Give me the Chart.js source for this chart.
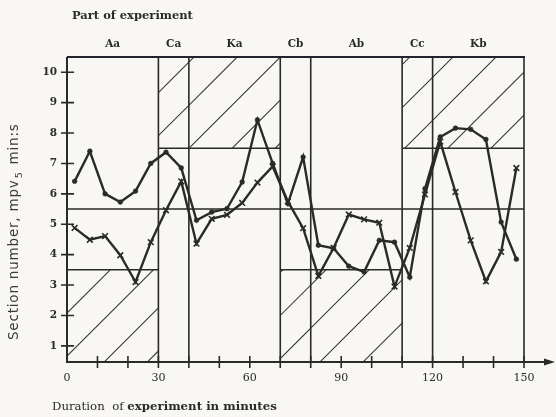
<!DOCTYPE html>
<html>
<head>
<meta charset="utf-8">
<script src="https://cdn.jsdelivr.net/npm/chart.js@4.4.1/dist/chart.umd.min.js"></script>
<style>
  html, body { margin: 0; padding: 0; background: #f8f7f3; }
  #wrap { width: 556px; height: 417px; }
</style>
</head>
<body>
<div id="wrap"><canvas id="c" width="556" height="417"></canvas></div>
<script>
// Measurement times (midpoint of each 5-minute interval)
const minutes = [2.5, 7.5, 12.5, 17.5, 22.5, 27.5, 32.5, 37.5, 42.5, 47.5,
                 52.5, 57.5, 62.5, 67.5, 72.5, 77.5, 82.5, 87.5, 92.5, 97.5,
                 102.5, 107.5, 112.5, 117.5, 122.5, 127.5, 132.5, 137.5, 142.5, 147.5];

// Series drawn with filled dots
const dotSeries = [6.41, 7.40, 6.00, 5.73, 6.09, 7.00, 7.37, 6.85, 5.13, 5.40,
                   5.51, 6.39, 8.43, 7.00, 5.68, 7.21, 4.31, 4.21, 3.62, 3.43,
                   4.47, 4.41, 3.26, 6.17, 7.87, 8.16, 8.12, 7.79, 5.07, 3.85];

// Series drawn with crosses
const crossSeries = [4.88, 4.49, 4.61, 3.98, 3.10, 4.41, 5.46, 6.41, 4.36, 5.18,
                     5.31, 5.70, 6.37, 6.90, 5.75, 4.87, 3.30, 4.22, 5.32, 5.16,
                     5.05, 2.95, 4.22, 5.98, 7.72, 6.06, 4.47, 3.12, 4.09, 6.85];

// Parts of the experiment
const sectionNames  = ['Aa', 'Ca', 'Ka', 'Cb', 'Ab', 'Cc', 'Kb'];
const sectionBounds = [0, 30, 40, 70, 80, 110, 120, 150];
const sectionZones  = ['low', 'high', 'high', 'low', 'low', 'high', 'high'];

// Reference levels
const lowLevel = 3.5;
const midLevel = 5.5;
const highLevel = 7.5;

// Axis ticks
const xTickValues = [0, 10, 20, 30, 40, 50, 60, 70, 80, 90, 100, 110, 120, 130, 140, 150];
const xLabelValues = [0, 30, 60, 90, 120, 150];
const yTickValues = [1, 2, 3, 4, 5, 6, 7, 8, 9, 10];

const INK = '#2a2a2a';
const SERIF = '"DejaVu Serif", "Liberation Serif", serif';
const SANS = '"DejaVu Sans", "Liberation Sans", sans-serif';

const framePlugin = {
  id: 'frame',
  beforeDatasetsDraw(chart) {
    const { ctx, chartArea: a, scales: { x, y } } = chart;
    const yMin = y.min, yMax = y.max;
    ctx.save();

    // hatched zones
    ctx.strokeStyle = '#3a3a3a';
    ctx.lineWidth = 1.1;
    const slope = 0.1, origin = 2.08, step = 1.416;
    sectionZones.forEach((zone, i) => {
      const t0 = sectionBounds[i], t1 = sectionBounds[i + 1];
      const v0 = zone === 'low' ? yMin : highLevel;
      const v1 = zone === 'low' ? lowLevel : yMax;
      const px0 = x.getPixelForValue(t0), px1 = x.getPixelForValue(t1);
      const py0 = y.getPixelForValue(v1), py1 = y.getPixelForValue(v0);
      ctx.save();
      ctx.beginPath();
      ctx.rect(px0, py0, px1 - px0, py1 - py0);
      ctx.clip();
      ctx.beginPath();
      for (let k = -14; k <= 14; k++) {
        const b = origin + k * step;
        ctx.moveTo(px0, y.getPixelForValue(slope * t0 + b));
        ctx.lineTo(px1, y.getPixelForValue(slope * t1 + b));
      }
      ctx.stroke();
      ctx.restore();
    });

    // level lines
    ctx.strokeStyle = INK;
    ctx.lineWidth = 1.5;
    ctx.beginPath();
    const ym = y.getPixelForValue(midLevel);
    ctx.moveTo(x.getPixelForValue(0), ym);
    ctx.lineTo(x.getPixelForValue(150), ym);
    sectionZones.forEach((zone, i) => {
      const lv = zone === 'low' ? lowLevel : highLevel;
      const py = y.getPixelForValue(lv);
      ctx.moveTo(x.getPixelForValue(sectionBounds[i]), py);
      ctx.lineTo(x.getPixelForValue(sectionBounds[i + 1]), py);
    });
    ctx.stroke();

    // section boundaries
    ctx.lineWidth = 1.6;
    ctx.beginPath();
    sectionBounds.slice(1).forEach(t => {
      const px = x.getPixelForValue(t);
      ctx.moveTo(px, a.bottom);
      ctx.lineTo(px, a.top);
    });
    ctx.stroke();

    // top border
    ctx.lineWidth = 2.2;
    ctx.strokeStyle = '#23232e';
    ctx.beginPath();
    ctx.moveTo(a.left, a.top);
    ctx.lineTo(x.getPixelForValue(150) + 1, a.top);
    ctx.stroke();

    // axes
    ctx.strokeStyle = INK;
    ctx.lineWidth = 2;
    ctx.beginPath();
    ctx.moveTo(a.left, a.top);
    ctx.lineTo(a.left, a.bottom);
    ctx.lineTo(a.right + 26, a.bottom);
    ctx.stroke();
    // arrow head
    ctx.fillStyle = INK;
    ctx.beginPath();
    ctx.moveTo(a.right + 31, a.bottom);
    ctx.lineTo(a.right + 20, a.bottom - 3.5);
    ctx.lineTo(a.right + 20, a.bottom + 3.5);
    ctx.closePath();
    ctx.fill();

    // cross ticks
    ctx.lineWidth = 1.6;
    ctx.beginPath();
    xTickValues.filter(v => v > 0).forEach(v => {
      const px = x.getPixelForValue(v);
      ctx.moveTo(px, a.bottom - 6);
      ctx.lineTo(px, a.bottom + 6);
    });
    yTickValues.forEach(v => {
      const py = y.getPixelForValue(v);
      ctx.moveTo(a.left - 6, py);
      ctx.lineTo(a.left + 7, py);
    });
    ctx.stroke();
    ctx.restore();
  },
  afterDraw(chart) {
    const { ctx, scales: { x } } = chart;
    ctx.save();
    ctx.fillStyle = INK;
    ctx.textBaseline = 'alphabetic';

    ctx.font = `bold 11.5px ${SERIF}`;
    ctx.textAlign = 'left';
    ctx.fillText('Part of experiment', 72, 19);

    ctx.textAlign = 'center';
    ctx.font = `bold 10.5px ${SERIF}`;
    sectionNames.forEach((name, i) => {
      const mid = (sectionBounds[i] + sectionBounds[i + 1]) / 2;
      ctx.fillText(name, x.getPixelForValue(mid), 47);
    });

    // x title
    ctx.textAlign = 'left';
    ctx.font = `11.75px ${SERIF}`;
    const p1 = 'Duration  of ';
    ctx.fillText(p1, 52, 410);
    const w1 = ctx.measureText(p1).width;
    ctx.font = `bold 11.75px ${SERIF}`;
    ctx.fillText('experiment in minutes', 52 + w1, 410);

    // y title (rotated)
    ctx.fillStyle = '#3a3a3a';
    ctx.translate(18, 340);
    ctx.rotate(-Math.PI / 2);
    ctx.letterSpacing = '0.8px';
    ctx.font = `13.5px ${SANS}`;
    const s1 = 'Section number, mpv';
    ctx.fillText(s1, 0, 0);
    let w = ctx.measureText(s1).width;
    ctx.font = `9.5px ${SANS}`;
    ctx.fillText('5', w + 1, 4);
    w += 1 + ctx.measureText('5').width + 2;
    ctx.font = `13.5px ${SANS}`;
    ctx.fillText(' min:s', w, 0);
    ctx.restore();
  }
};

const toPoints = vals => minutes.map((m, i) => ({ x: m, y: vals[i] }));

new Chart(document.getElementById('c'), {
  type: 'line',
  data: {
    datasets: [
      {
        data: toPoints(dotSeries),
        borderColor: INK,
        borderWidth: 2.4,
        pointStyle: 'circle',
        pointRadius: 2.4,
        pointBackgroundColor: INK,
        pointBorderColor: INK,
        pointBorderWidth: 0.5,
        tension: 0,
        fill: false
      },
      {
        data: toPoints(crossSeries),
        borderColor: INK,
        borderWidth: 2.4,
        pointStyle: 'crossRot',
        pointRadius: 4,
        pointBorderColor: INK,
        pointBorderWidth: 1.6,
        tension: 0,
        fill: false
      }
    ]
  },
  options: {
    responsive: false,
    animation: false,
    devicePixelRatio: 1,
    layout: { padding: { top: 57, right: 32, left: 0, bottom: 0 } },
    plugins: { legend: { display: false }, tooltip: { enabled: false } },
    scales: {
      x: {
        type: 'linear',
        min: 0,
        max: 150,
        afterBuildTicks: s => { s.ticks = xTickValues.map(v => ({ value: v })); },
        afterFit: s => { s.height = 55; },
        grid: { display: false },
        border: { display: false },
        ticks: {
          autoSkip: false,
          maxRotation: 0,
          padding: 2,
          color: INK,
          font: { family: SERIF, size: 11 },
          callback: v => (xLabelValues.includes(v) ? String(v) : '')
        }
      },
      y: {
        type: 'linear',
        min: 0.47,
        max: 10.5,
        afterBuildTicks: s => { s.ticks = yTickValues.map(v => ({ value: v })); },
        afterFit: s => { s.width = 67; },
        grid: { display: false },
        border: { display: false },
        ticks: {
          padding: 2,
          color: INK,
          font: { family: SERIF, size: 10.5, weight: 'bold' }
        }
      }
    }
  },
  plugins: [framePlugin]
});
</script>
</body>
</html>
